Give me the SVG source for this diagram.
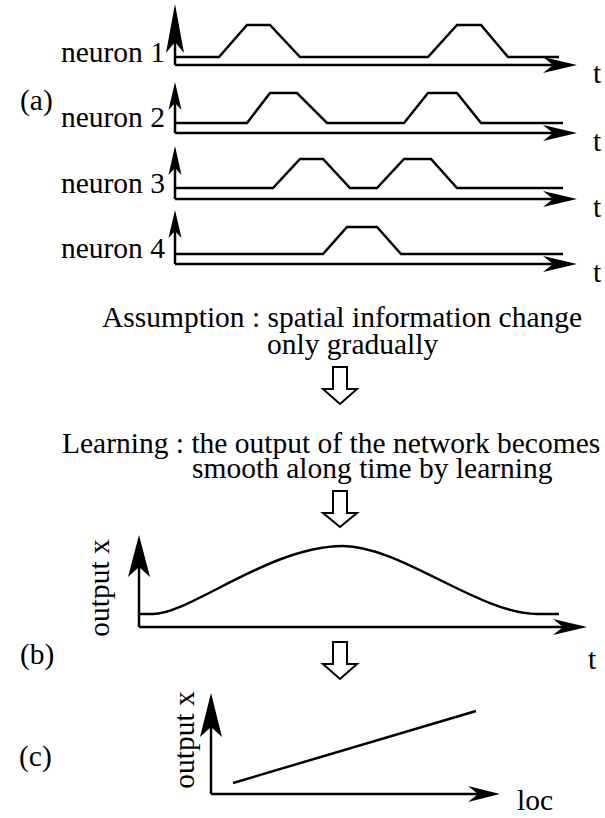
<svg xmlns="http://www.w3.org/2000/svg" width="605" height="818" viewBox="0 0 605 818">
<style>
text{font-family:"Liberation Serif","Times New Roman",serif;font-size:29.5px;fill:#000}
.ln{fill:none;stroke:#000;stroke-width:2.5;stroke-linejoin:miter}
.ah{fill:#000;stroke:none}
.hollow{fill:#fff;stroke:#000;stroke-width:2}
</style>
<rect width="605" height="818" fill="#fff"/>
<text x="20" y="110">(a)</text>
<g id="neuron1">
<text x="165" y="62" text-anchor="end">neuron 1</text>
<path class="ln" d="M175,65 V30 M175,65 H560"/>
<polygon class="ah" points="175,4 184,53 175,42 166,53"/>
<polygon class="ah" points="577,65 543,57 553,65 543,73"/>
<path class="ln" d="M175,57 H219 L247,25 H270 L300,57 H428 L457,25 H481 L508,57 H559"/>
<text x="593" y="83">t</text>
</g>
<g id="neuron2">
<text x="165" y="127" text-anchor="end">neuron 2</text>
<path class="ln" d="M175,133 V100 M175,133 H560"/>
<polygon class="ah" points="175,82 181.5,110 175,103 168.5,110"/>
<polygon class="ah" points="577,133 543,125 553,133 543,141"/>
<path class="ln" d="M175,123 H247 L270,93 H297 L327,123 H404 L428,93 H457 L481,123 H563"/>
<text x="593" y="151">t</text>
</g>
<g id="neuron3">
<text x="165" y="193" text-anchor="end">neuron 3</text>
<path class="ln" d="M175,199 V165 M175,199 H560"/>
<polygon class="ah" points="175,146 181.5,175 175,168 168.5,175"/>
<polygon class="ah" points="577,199 543,191 553,199 543,207"/>
<path class="ln" d="M175,188 H273 L300,159 H323 L350,188 H377 L404,159 H431 L457,188 H563"/>
<text x="593" y="217">t</text>
</g>
<g id="neuron4">
<text x="165" y="258" text-anchor="end">neuron 4</text>
<path class="ln" d="M175,264 V230 M175,264 H560"/>
<polygon class="ah" points="175,210 181.5,238 175,231 168.5,238"/>
<polygon class="ah" points="577,264 543,256 553,264 543,272"/>
<path class="ln" d="M175,254 H323 L347,227 H377 L401,254 H563"/>
<text x="593" y="282">t</text>
</g>
<g id="assumption">
<text x="102" y="327">Assumption : spatial information change</text>
<text x="267" y="354">only gradually</text>
</g>
<g id="learning">
<text x="62" y="453">Learning : the output of the network becomes</text>
<text x="192" y="478">smooth along time by learning</text>
</g>
<g id="panel-b">
<text x="20" y="664">(b)</text>
<text transform="translate(109,588) rotate(-90)" text-anchor="middle">output x</text>
<path class="ln" d="M139,627 V560 M139,627 H570"/>
<polygon class="ah" points="139,535 150,577 139,567 128,577"/>
<polygon class="ah" points="587,627 553,619 563,627 553,635"/>
<path class="ln" d="M139,614 H153 C190,614 270,546 343,546 C400,546 480,614 537,614 H559"/>
<text x="588" y="669">t</text>
</g>
<g id="panel-c">
<text x="19" y="766">(c)</text>
<text transform="translate(194,740) rotate(-90)" text-anchor="middle">output x</text>
<path class="ln" d="M211,794 V720 M211,794 H485"/>
<polygon class="ah" points="211,693 222,737 211,727 200,737"/>
<polygon class="ah" points="500,794 468,786 478,794 468,802"/>
<path class="ln" d="M233,783 L476,711"/>
<text x="517" y="810">loc</text>
</g>
<g id="connectors">
<polygon class="hollow" points="333,367 347,367 347,389 357,389 340,404 323,389 333,389"/>
<polygon class="hollow" points="333,491 347,491 347,513 357,513 340,527 323,513 333,513"/>
<polygon class="hollow" points="333,642 347,642 347,664 357,664 340,679 323,664 333,664"/>
</g>
</svg>
